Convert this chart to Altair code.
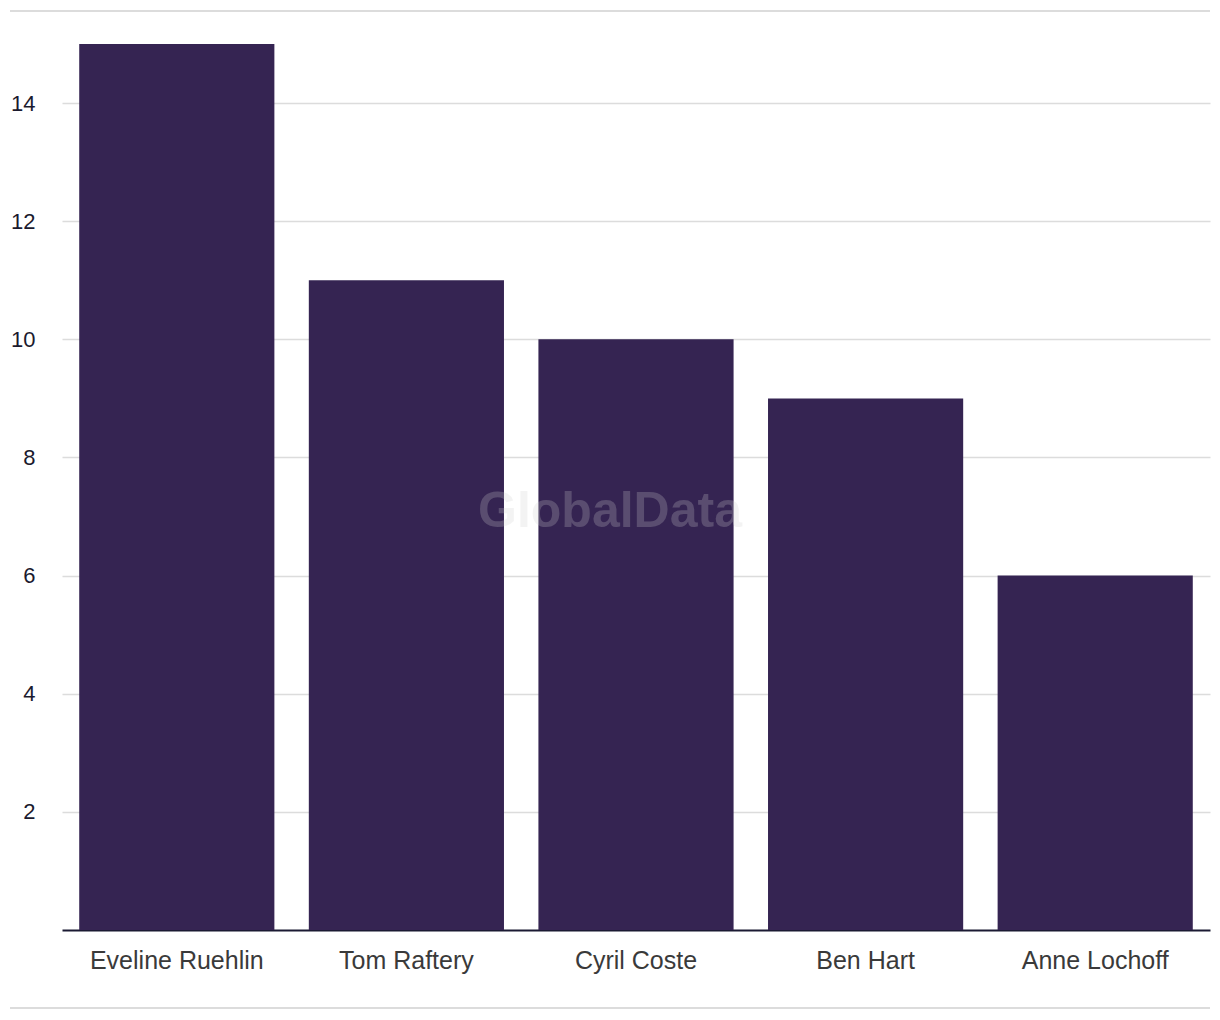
import altair as alt
import pandas as pd

names = ["Eveline Ruehlin", "Tom Raftery", "Cyril Coste", "Ben Hart", "Anne Lochoff"]
counts = [15, 11, 10, 9, 6]
y_ticks = [2, 4, 6, 8, 10, 12, 14]

df = pd.DataFrame({"name": names, "count": counts})

W, H = 1148, 886

bars = alt.Chart(df).mark_bar(color="#352452").encode(
    x=alt.X("name:N", sort=names,
            scale=alt.Scale(paddingInner=0.15, paddingOuter=0.075),
            axis=alt.Axis(title=None, labelAngle=0, ticks=False, domain=True,
                          domainColor="#1b1a33", domainWidth=2,
                          labelFont="Liberation Sans", labelFontSize=25, labelColor="#3a3a3a",
                          labelPadding=18, grid=False)),
    y=alt.Y("count:Q", scale=alt.Scale(domain=[0, 15], nice=False),
            axis=alt.Axis(title=None, values=y_ticks, ticks=False, domain=False,
                          grid=True, gridColor="#dcdcdc", gridWidth=1.5,
                          labelFont="Liberation Sans", labelFontSize=22,
                          labelColor="#1b1a2e", labelPadding=27)),
)

wm = alt.Chart(pd.DataFrame({"t": ["GlobalData"]})).mark_text(
    font="Liberation Sans", fontWeight="bold", fontSize=50,
    color="#cfcfcf", opacity=0.24, align="center", baseline="middle"
).encode(text="t:N", x=alt.value(548), y=alt.value(468))

top_line = alt.Chart(pd.DataFrame({"a": [0]})).mark_rule(color="#dcdcdc", strokeWidth=2).encode(
    x=alt.value(-52), x2=alt.value(W), y=alt.value(-33))
bot_line = alt.Chart(pd.DataFrame({"a": [0]})).mark_rule(color="#dcdcdc", strokeWidth=2).encode(
    x=alt.value(-52), x2=alt.value(W), y=alt.value(964))

chart = alt.layer(bars, wm, top_line, bot_line).properties(
    width=W, height=H,
    background="white",
    autosize=alt.AutoSizeParams(type="none"),
    padding={"left": 62, "top": 44, "right": 10, "bottom": 90},
).configure_view(strokeWidth=0, stroke=None)

chart.save("out.html", embed_options={"renderer": "svg", "actions": False})
